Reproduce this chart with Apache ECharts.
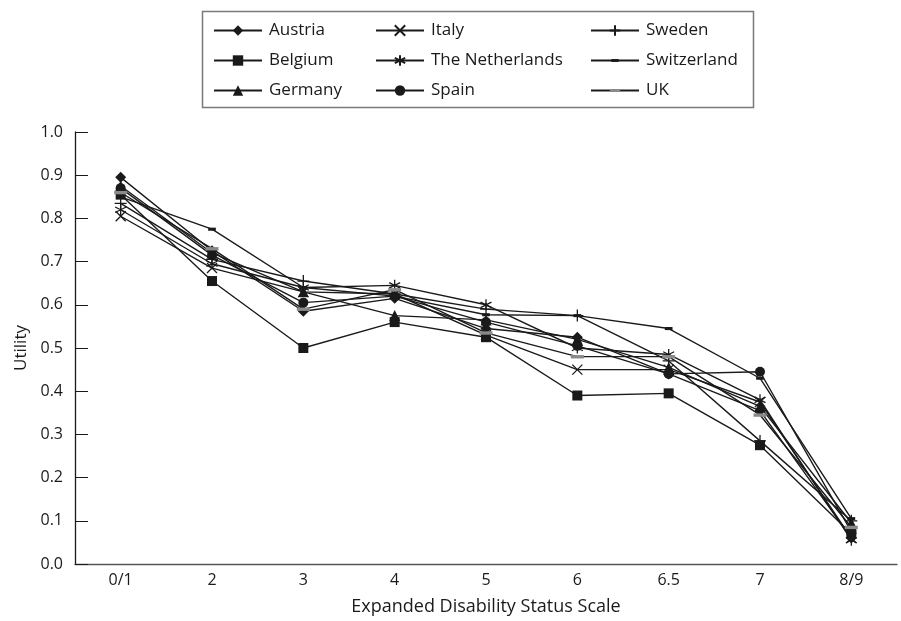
<!DOCTYPE html>
<html>
<head>
<meta charset="utf-8">
<script src="https://cdn.jsdelivr.net/npm/echarts@6/dist/echarts.min.js"></script>
<style>
html,body{margin:0;padding:0;background:#fff;}
#chart{width:901px;height:621px;}
</style>
</head>
<body>
<div id="chart"></div>
<script>
const categories = ['0/1', '2', '3', '4', '5', '6', '6.5', '7', '8/9'];
const austria     = [0.895, 0.725, 0.585, 0.615, 0.545, 0.525, 0.440, 0.355, 0.060];
const belgium     = [0.855, 0.655, 0.500, 0.560, 0.525, 0.390, 0.395, 0.275, 0.070];
const germany     = [0.875, 0.720, 0.630, 0.575, 0.565, 0.520, 0.455, 0.365, 0.095];
const italy       = [0.805, 0.685, 0.630, 0.625, 0.530, 0.450, 0.450, 0.375, 0.060];
const netherlands = [0.820, 0.695, 0.640, 0.645, 0.600, 0.500, 0.485, 0.380, 0.055];
const spain       = [0.870, 0.715, 0.605, 0.620, 0.560, 0.505, 0.440, 0.445, 0.075];
const sweden      = [0.835, 0.705, 0.655, 0.625, 0.590, 0.575, 0.470, 0.285, 0.100];
const switzerland = [0.850, 0.775, 0.640, 0.620, 0.577, 0.575, 0.545, 0.430, 0.105];
const uk          = [0.860, 0.730, 0.590, 0.635, 0.535, 0.480, 0.480, 0.345, 0.085];
const yTicks = [0, 0.1, 0.2, 0.3, 0.4, 0.5, 0.6, 0.7, 0.8, 0.9, 1.0];

const FONT = '"Open Sans", "Noto Sans", sans-serif';
const BLACK = '#1a1a1a';

const X_PATH = 'path://M0,0L10,10M10,0L0,10';
const STAR_PATH = 'path://M5,0L5,10M0.7,2.5L9.3,7.5M0.7,7.5L9.3,2.5';
const PLUS_PATH = 'path://M5,0L5,10M0,5L10,5';
const DASH_S = 'path://M0,0M10,10M1.5,3.6L8.5,3.6L8.5,6.4L1.5,6.4Z';
const DASH_L = 'path://M0,0M10,10M0,3.8L10,3.8L10,6.4L0,6.4Z';

function mk(name, data, symbol, size, extra) {
  return Object.assign({
    name: name,
    type: 'line',
    data: data,
    symbol: symbol,
    symbolSize: size,
    showAllSymbol: true,
    lineStyle: {color: BLACK, width: 1.4},
    itemStyle: {color: BLACK, borderColor: BLACK, borderWidth: 0},
    emphasis: {disabled: true},
    animation: false
  }, extra || {});
}

const strokeStyle = {color: 'rgba(0,0,0,0)', borderColor: BLACK, borderWidth: 1.3};

const series = [
  mk('Austria', austria, 'diamond', 11),
  mk('Belgium', belgium, 'rect', 10),
  mk('Germany', germany, 'triangle', 11),
  mk('Italy', italy, X_PATH, 10, {itemStyle: strokeStyle}),
  mk('The Netherlands', netherlands, STAR_PATH, 11, {itemStyle: strokeStyle}),
  mk('Spain', spain, 'circle', 10),
  mk('Sweden', sweden, PLUS_PATH, 12, {itemStyle: strokeStyle}),
  mk('Switzerland', switzerland, DASH_S, 11),
  mk('UK', uk, DASH_L, 13, {itemStyle: {color: '#8a8a8a', borderWidth: 0}})
];

const legendCommon = {
  orient: 'vertical',
  top: 22,
  padding: 0,
  itemWidth: 48,
  itemHeight: 13,
  itemGap: 13,
  selectedMode: false,
  textStyle: {fontFamily: FONT, fontSize: 17, color: BLACK, padding: [0, 0, 0, 2]}
};

const chart = echarts.init(document.getElementById('chart'), null, {renderer: 'canvas'});
chart.setOption({
  backgroundColor: '#fff',
  animation: false,
  graphic: [{
    type: 'rect',
    left: 200, top: 9,
    shape: {width: 551, height: 96},
    style: {fill: 'none', stroke: '#7a7a7a', lineWidth: 1.5},
    z: -1
  }],
  legend: [
    Object.assign({left: 213, data: ['Austria', 'Belgium', 'Germany']}, legendCommon),
    Object.assign({left: 375, data: ['Italy', 'The Netherlands', 'Spain']}, legendCommon),
    Object.assign({left: 590, data: ['Sweden', 'Switzerland', 'UK']}, legendCommon)
  ],
  grid: {left: 75, right: 4, top: 132, bottom: 56, containLabel: false},
  xAxis: {
    type: 'category',
    data: categories,
    boundaryGap: true,
    name: 'Expanded Disability Status Scale',
    nameLocation: 'middle',
    nameGap: 34,
    nameTextStyle: {fontFamily: FONT, fontSize: 18, color: BLACK},
    axisLine: {lineStyle: {color: '#555', width: 1.3}},
    axisTick: {inside: true, length: 10, alignWithLabel: false, lineStyle: {color: BLACK, width: 1}},
    axisLabel: {fontFamily: FONT, fontSize: 16, color: BLACK, margin: 8}
  },
  yAxis: {
    type: 'value',
    min: 0, max: 1, interval: 0.1,
    name: 'Utility',
    nameLocation: 'middle',
    nameGap: 45,
    nameTextStyle: {fontFamily: FONT, fontSize: 17, color: BLACK},
    axisLine: {show: true, lineStyle: {color: BLACK, width: 1.3}},
    axisTick: {show: true, inside: true, length: 13, lineStyle: {color: BLACK, width: 1}},
    splitLine: {show: false},
    axisLabel: {
      fontFamily: FONT, fontSize: 16, color: BLACK, margin: 12,
      formatter: function (v) {
        const t = yTicks.find(function (k) { return Math.abs(k - v) < 1e-6; });
        return (t === undefined ? v : t).toFixed(1);
      }
    }
  },
  series: series
});
</script>
</body>
</html>
